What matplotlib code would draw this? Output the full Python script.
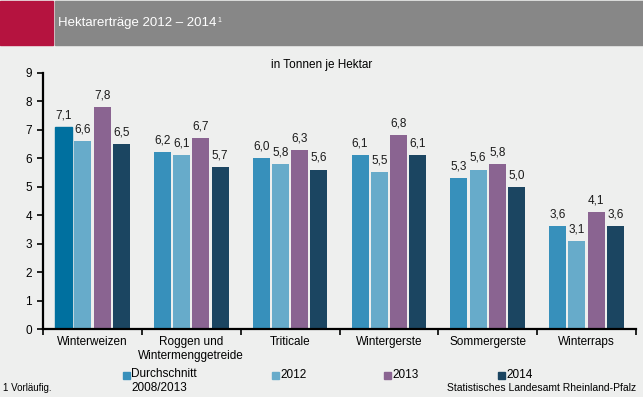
import numpy as np
import matplotlib
matplotlib.use('Agg')
from matplotlib import pyplot as plt
from matplotlib.patches import Rectangle

plt.rcParams['font.family'] = ['Liberation Sans', 'DejaVu Sans']

# Daten
kategorien = ['Winterweizen', 'Roggen und\nWintermenggetreide', 'Triticale',
              'Wintergerste', 'Sommergerste', 'Winterraps']
durchschnitt = [7.1, 6.2, 6.0, 6.1, 5.3, 3.6]
werte_2012 = [6.6, 6.1, 5.8, 5.5, 5.6, 3.1]
werte_2013 = [7.8, 6.7, 6.3, 6.8, 5.8, 4.1]
werte_2014 = [6.5, 5.7, 5.6, 6.1, 5.0, 3.6]
serien_namen = ['Durchschnitt\n2008/2013', '2012', '2013', '2014']

farben = ['#3790bb', '#67abca', '#8a6491', '#1b4561']
bg = '#eeefee'

W, H = 643, 397
fig = plt.figure(figsize=(W / 100, H / 100), dpi=100, facecolor=bg)

def fx(x):
    return x / W

def fy(y):
    return 1 - y / H

# Kopfzeile
fig.patches.append(Rectangle((0, fy(45)), fx(53), 44 / H, transform=fig.transFigure,
                             color='#b5133f', zorder=0))
fig.patches.append(Rectangle((fx(55), fy(45)), 1 - fx(55), 44 / H, transform=fig.transFigure,
                             color='#878787', zorder=0))
titel = fig.text(fx(58), fy(23), 'Hektarerträge 2012 – 2014', color='white', fontsize=9.5,
                 va='center', ha='left')
fig.canvas.draw()
bb = titel.get_window_extent()
fig.text((bb.x1 + 1) / W, fy(20), '1', color='white', fontsize=5, va='center', ha='left')

# Achsen
ax = fig.add_axes([fx(43), fy(329), fx(636) - fx(43), (329 - 72.7) / H])
ax.set_facecolor(bg)

x = np.arange(len(kategorien))
breite = 0.172
schritt = 0.195
serien = [durchschnitt, werte_2012, werte_2013, werte_2014]
for i, (werte, farbe) in enumerate(zip(serien, farben)):
    pos = x + (i - 1.5) * schritt
    bars = ax.bar(pos, werte, width=breite, color=farbe, zorder=2)
    if i == 0:
        bars[0].set_color('#00709f')
    for b, v in zip(bars, werte):
        ax.annotate(f'{v:.1f}'.replace('.', ','), (b.get_x() + b.get_width() / 2, v),
                    xytext=(0, 4), textcoords='offset points', ha='center', va='bottom',
                    fontsize=8.5, color='#1a1a1a')

ax.set_xlim(-0.5, len(kategorien) - 0.5)
ax.set_ylim(0, 9)
ax.set_yticks(range(10))
ax.tick_params(axis='y', length=4, width=1.2, labelsize=8.5, pad=4)
ax.set_xticks(np.arange(len(kategorien) + 1) - 0.5)
ax.set_xticklabels([])
ax.tick_params(axis='x', length=4, width=1.2, direction='out')
for k, name in enumerate(kategorien):
    ax.text(k, -0.25, name, ha='center', va='top', fontsize=8.5, linespacing=1.2,
            transform=ax.transData)

for s in ['top', 'right']:
    ax.spines[s].set_visible(False)
for s in ['left', 'bottom']:
    ax.spines[s].set_linewidth(1.6)

fig.text(fx(322), fy(65), 'in Tonnen je Hektar', ha='center', va='center', fontsize=8.5)

# Legende
leg_x = [123, 272, 384, 498]
for lx, farbe, name in zip(leg_x, farben, serien_namen):
    fig.patches.append(Rectangle((fx(lx), fy(379)), fx(7), 7 / H, transform=fig.transFigure,
                                 color=farbe))
    if '\n' in name:
        fig.text(fx(lx + 8), fy(368), name, ha='left', va='top', fontsize=8.5, linespacing=1.25)
    else:
        fig.text(fx(lx + 8), fy(375), name, ha='left', va='center', fontsize=8.5)

fig.text(fx(3), fy(388), '1 Vorläufig.', fontsize=7, va='center', ha='left')
fig.text(fx(636), fy(388), 'Statistisches Landesamt Rheinland-Pfalz', fontsize=7.5,
         va='center', ha='right')

fig.savefig('out.png', dpi=100, facecolor=bg)
